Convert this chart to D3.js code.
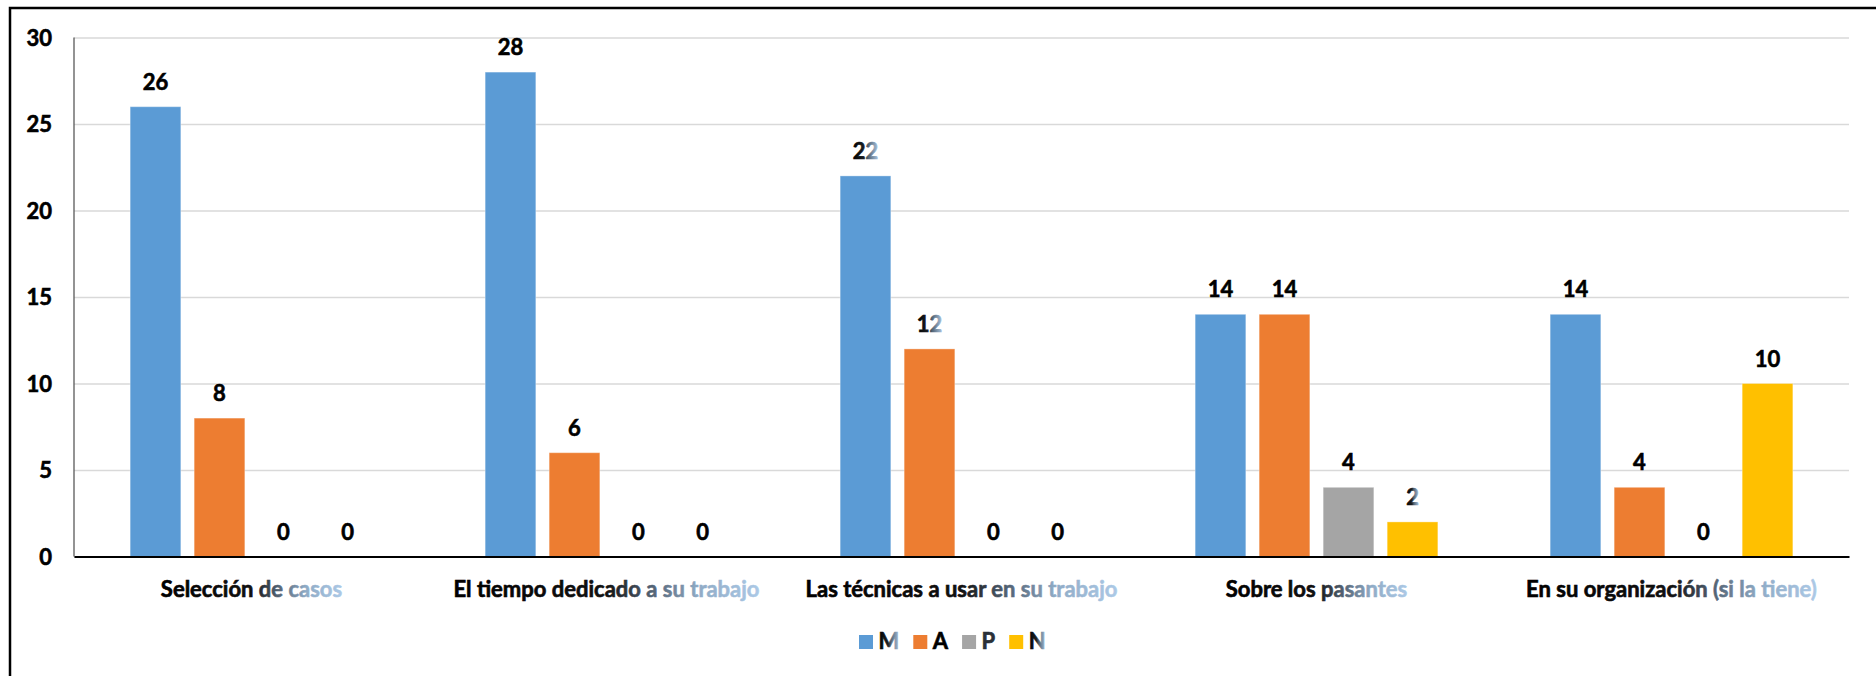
<!DOCTYPE html>
<html><head><meta charset="utf-8">
<script src="https://cdn.jsdelivr.net/npm/d3@7"></script>
<style>html,body{margin:0;padding:0;background:#fff;} svg{display:block;}</style>
</head><body><svg id="chart" width="1876" height="676"></svg>
<script>
// ---- data ----
const categories = [
  "Selección de casos",
  "El tiempo dedicado a su trabajo",
  "Las técnicas a usar en su trabajo",
  "Sobre los pasantes",
  "En su organización (si la tiene)"
];
const seriesNames = ["M", "A", "P", "N"];
const valuesM = [26, 28, 22, 14, 14];
const valuesA = [8, 6, 12, 14, 4];
const valuesP = [0, 0, 0, 4, 0];
const valuesN = [0, 0, 0, 2, 10];
const yTicks = [0, 5, 10, 15, 20, 25, 30];

// ---- styling ----
const seriesValues = {M: valuesM, A: valuesA, P: valuesP, N: valuesN};
const colors = {M: "#5b9bd5", A: "#ed7d31", P: "#a5a5a5", N: "#ffc000"};
const fadedValueLabels = new Set(["2|M", "2|A", "3|N"]);
const fadedLegend = new Set(["M", "N"]);
const FONT = "Lato, 'Open Sans', sans-serif";
const FS = 22;
const SW = 0.6; // extra stroke to mimic the heavier original bold

const pLeft = 74, pRight = 1849, pTop = 37.5, pBottom = 556.5;
const svg = d3.select("#chart");

const defs = svg.append("defs");
const g1 = defs.append("linearGradient").attr("id", "catFade").attr("x1", "0").attr("x2", "1").attr("y1", "0").attr("y2", "0");
[[0, "#000"], [0.5, "#111"], [0.64, "#4f5f70"], [0.8, "#8fabc6"], [1, "#acc9e6"]].forEach(([o, c]) =>
  g1.append("stop").attr("offset", o).attr("stop-color", c));
const g2 = defs.append("linearGradient").attr("id", "valFade").attr("x1", "0").attr("x2", "1").attr("y1", "0").attr("y2", "0");
[[0, "#000"], [0.45, "#1a1f25"], [0.6, "#4f6275"], [1, "#a9c4df"]].forEach(([o, c]) =>
  g2.append("stop").attr("offset", o).attr("stop-color", c));

// border (right/bottom edges fall outside the frame)
svg.append("rect").attr("x", 10).attr("y", 8).attr("width", 1900).attr("height", 700)
  .attr("fill", "none").attr("stroke", "#000").attr("stroke-width", 2.5);

const x0 = d3.scaleBand().domain(categories).range([pLeft, pRight]).padding(0);
const x1 = d3.scaleBand().domain(seriesNames).range([0, x0.bandwidth()])
  .paddingInner(0.208).paddingOuter(0.877);
const y = d3.scaleLinear().domain([0, 30]).range([pBottom, pTop]);

// y axis with gridlines
const yAxis = svg.append("g").attr("transform", `translate(${pLeft},0)`)
  .call(d3.axisLeft(y).tickValues(yTicks).tickSize(-(pRight - pLeft)).tickPadding(22));
yAxis.select(".domain").remove();
yAxis.selectAll(".tick line").attr("stroke", "#d9d9d9").attr("stroke-width", 1.6);
yAxis.selectAll(".tick text").attr("fill", "#000").attr("stroke", "#000").attr("stroke-width", SW)
  .attr("font-family", FONT)
  .attr("font-weight", "bold").attr("font-size", FS).attr("dy", "0.36em");
svg.append("line").attr("x1", pLeft).attr("x2", pLeft).attr("y1", pTop).attr("y2", pBottom)
  .attr("stroke", "#595959").attr("stroke-width", 1.3);

// bars
const groups = svg.append("g").selectAll("g").data(categories).join("g")
  .attr("transform", d => `translate(${x0(d)},0)`);
groups.selectAll("rect").data((d, i) => seriesNames.map(s => ({s, v: seriesValues[s][i], i})))
  .join("rect")
  .attr("x", d => x1(d.s)).attr("width", x1.bandwidth())
  .attr("y", d => y(d.v)).attr("height", d => y(0) - y(d.v))
  .attr("fill", d => colors[d.s])
  .attr("stroke", "rgba(255,255,255,0.35)").attr("stroke-width", 1);
groups.selectAll("text").data((d, i) => seriesNames.map(s => ({s, v: seriesValues[s][i], i})))
  .join("text")
  .attr("x", d => x1(d.s) + x1.bandwidth() / 2).attr("y", d => y(d.v) - 17)
  .attr("text-anchor", "middle").attr("font-family", FONT).attr("font-weight", "bold")
  .attr("font-size", FS)
  .attr("fill", d => fadedValueLabels.has(d.i + "|" + d.s) ? "url(#valFade)" : "#000")
  .attr("stroke", d => fadedValueLabels.has(d.i + "|" + d.s) ? "url(#valFade)" : "#000")
  .attr("stroke-width", SW)
  .text(d => d.v);

// x axis
const xAxis = svg.append("g").attr("transform", `translate(0,${pBottom})`)
  .call(d3.axisBottom(x0).tickSize(0));
xAxis.select(".domain").attr("stroke", "#000").attr("stroke-width", 2);
xAxis.selectAll(".tick text").attr("y", 40).attr("dy", null)
  .attr("font-family", FONT).attr("font-weight", "bold").attr("font-size", FS)
  .attr("fill", "url(#catFade)").attr("stroke", "url(#catFade)").attr("stroke-width", SW);

// legend
const legend = svg.append("g");
let lx = 859;
seriesNames.forEach(s => {
  legend.append("rect").attr("x", lx).attr("y", 635).attr("width", 14).attr("height", 14).attr("fill", colors[s]);
  const paint = fadedLegend.has(s) ? "url(#valFade)" : (s === "P" ? "#2a3038" : "#000");
  const t = legend.append("text").attr("x", lx + 19.5).attr("y", 649)
    .attr("font-family", FONT).attr("font-weight", "bold").attr("font-size", FS)
    .attr("fill", paint).attr("stroke", paint).attr("stroke-width", SW)
    .text(s);
  lx += 19.5 + t.node().getComputedTextLength() + 14;
});
</script></body></html>
